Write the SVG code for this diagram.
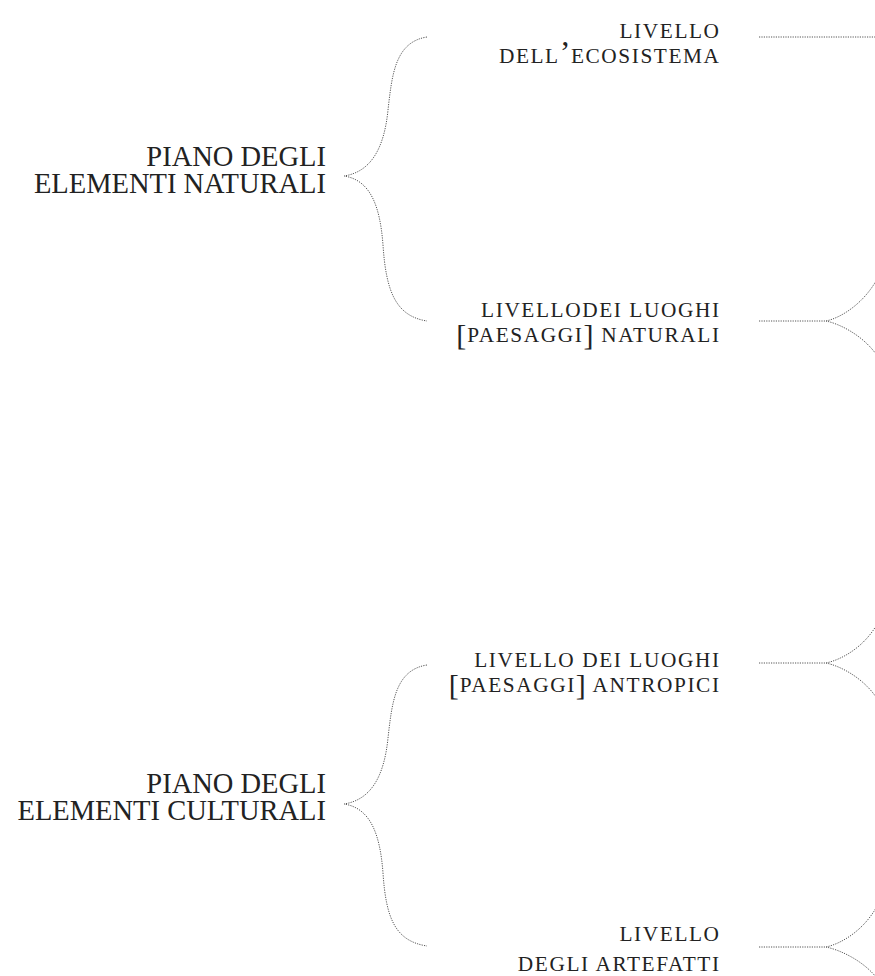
<svg xmlns="http://www.w3.org/2000/svg" width="875" height="976" viewBox="0 0 875 976">
<style>
.big{font-family:"Liberation Serif","Times New Roman",serif;font-size:28.5px;fill:#222;text-anchor:end}
.sm{font-family:"Liberation Serif","Times New Roman",serif;font-size:21.3px;letter-spacing:1.6px;fill:#222;text-anchor:end}
.br{font-size:30px;letter-spacing:1px}
.ap{font-size:32px;letter-spacing:0.5px}
.dot{fill:none;stroke:#555;stroke-width:1;stroke-dasharray:1.2 1.2}
</style>
<rect width="875" height="976" fill="#fff"/>
<g id="connectors">
<path class="dot" d="M427 37 C395 42 392 75 388 110 C384 150 370 172 344 176 C370 180 380 205 383 245 C386 290 395 316 427 321"/>
<path class="dot" d="M427 665 C395 670 392 703 388 738 C384 778 370 800 344 804 C370 808 380 833 383 873 C386 918 395 941 427 946"/>
<path class="dot" d="M759 37 H875"/>
<path class="dot" d="M759 321 H826 C840 318 862 305 876 281 M826 321 C840 324 862 335 876 354"/>
<path class="dot" d="M759 663 H826 C840 660 862 649 876 626 M826 663 C840 666 862 677 876 697"/>
<path class="dot" d="M759 947 H826 C840 944 862 932 876 908 M826 947 C840 950 862 960 876 977"/>
</g>
<g id="piano-naturali">
<text class="big" x="326" y="166">PIANO DEGLI</text>
<text class="big" x="326" y="193">ELEMENTI NATURALI</text>
</g>
<g id="piano-culturali">
<text class="big" x="326" y="793">PIANO DEGLI</text>
<text class="big" x="326" y="820">ELEMENTI CULTURALI</text>
</g>
<g id="livello-ecosistema">
<text class="sm" x="720.6" y="38">LIVELLO</text>
<text class="sm" x="720.6" y="63">DELL<tspan class="ap">’</tspan>ECOSISTEMA</text>
</g>
<g id="livello-naturali">
<text class="sm" x="720.6" y="317">LIVELLODEI LUOGHI</text>
<text class="sm" x="720.6" y="342"><tspan class="br" dy="2.5">[</tspan><tspan dy="-2.5">PAESAGGI</tspan><tspan class="br" dy="2.5">]</tspan><tspan dy="-2.5"> NATURALI</tspan></text>
</g>
<g id="livello-antropici">
<text class="sm" x="720.6" y="667">LIVELLO DEI LUOGHI</text>
<text class="sm" x="720.6" y="692"><tspan class="br" dy="2.5">[</tspan><tspan dy="-2.5">PAESAGGI</tspan><tspan class="br" dy="2.5">]</tspan><tspan dy="-2.5"> ANTROPICI</tspan></text>
</g>
<g id="livello-artefatti">
<text class="sm" x="720.6" y="941">LIVELLO</text>
<text class="sm" x="720.6" y="971">DEGLI ARTEFATTI</text>
</g>
</svg>
